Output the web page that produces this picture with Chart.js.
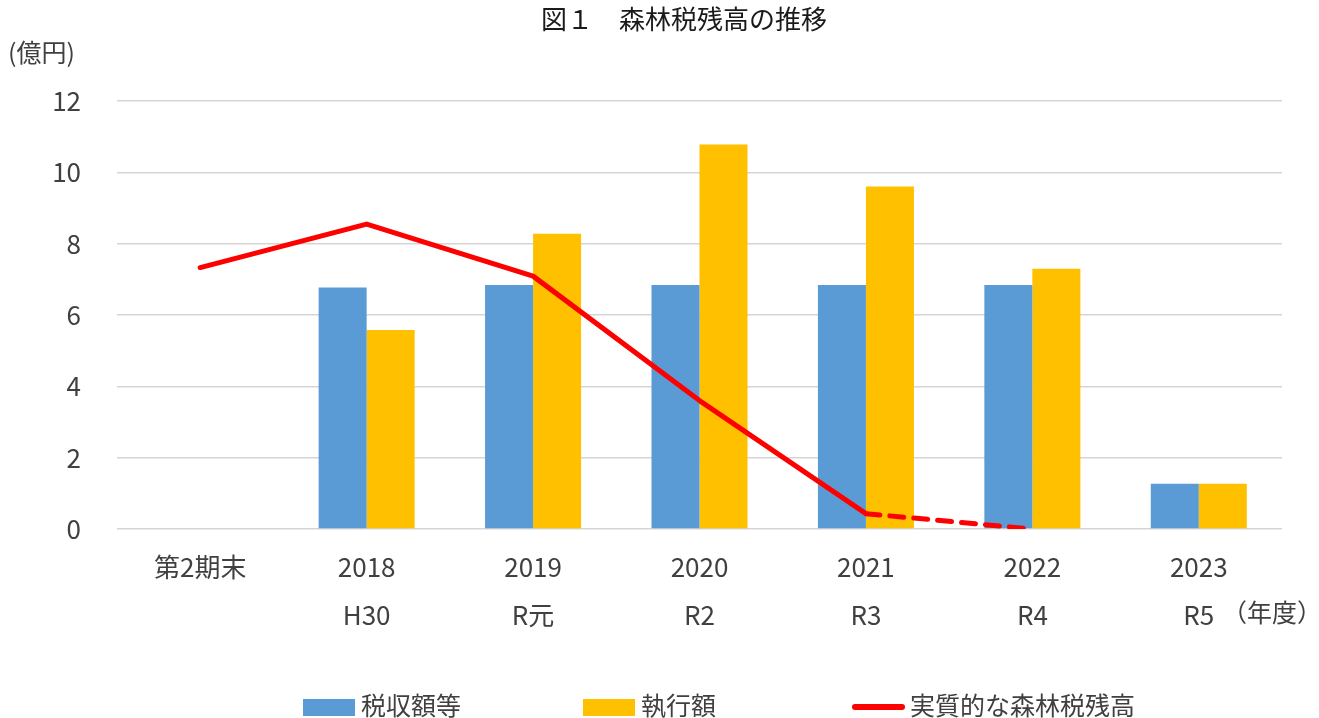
<!DOCTYPE html>
<html>
<head>
<meta charset="utf-8">
<script src="https://cdn.jsdelivr.net/npm/chart.js@4"></script>
<style>
  html, body { margin: 0; padding: 0; background: #fff; }
  #wrap { width: 1319px; height: 718px; }
</style>
</head>
<body>
<div id="wrap"><canvas id="chart" width="1319" height="718"></canvas></div>
<script>
const categories = [
  ["第2期末", ""],
  ["2018", "H30"],
  ["2019", "R元"],
  ["2020", "R2"],
  ["2021", "R3"],
  ["2022", "R4"],
  ["2023", "R5"]
];
const revenue = [null, 6.77, 6.84, 6.84, 6.84, 6.84, 1.27];
const spending = [null, 5.58, 8.28, 10.78, 9.6, 7.3, 1.27];
const balance = [7.33, 8.55, 7.09, 3.6, 0.43, 0, null];
const yTicks = [0, 2, 4, 6, 8, 10, 12];

const FONT = "'Noto Sans CJK JP', 'Noto Sans', sans-serif";
const TEXT = "#404040";
Chart.defaults.font.family = FONT;
Chart.defaults.color = TEXT;

// title, unit labels and the bottom legend
const extras = {
  id: "extras",
  afterDraw(chart) {
    const ctx = chart.ctx;
    ctx.save();
    ctx.fillStyle = "#1a1a1a";
    ctx.textBaseline = "middle";
    ctx.font = `26px ${FONT}`;
    ctx.textAlign = "left";
    ctx.fillText("図１　森林税残高の推移", 541, 19);

    ctx.fillStyle = TEXT;
    ctx.font = `25px ${FONT}`;
    ctx.fillText("(億円)", 8, 52);
    ctx.fillText("（年度）", 1222, 612);

    const starts = [303, 583, 852];
    const y = 707;
    chart.data.datasets.forEach((ds, i) => {
      const x = starts[i];
      if (ds.type === "line") {
        ctx.strokeStyle = ds.borderColor;
        ctx.lineWidth = 6;
        ctx.lineCap = "round";
        ctx.beginPath();
        ctx.moveTo(x + 3, y);
        ctx.lineTo(x + 50, y);
        ctx.stroke();
      } else {
        ctx.fillStyle = ds.backgroundColor;
        ctx.fillRect(x, y - 8, 52, 17);
      }
      ctx.fillStyle = TEXT;
      ctx.fillText(ds.label, x + 58, y - 2);
    });
    ctx.restore();
  }
};

new Chart(document.getElementById("chart"), {
  data: {
    labels: categories,
    datasets: [
      {
        type: "bar",
        label: "税収額等",
        data: revenue,
        backgroundColor: "#5B9BD5",
        order: 2
      },
      {
        type: "bar",
        label: "執行額",
        data: spending,
        backgroundColor: "#FFC000",
        order: 2
      },
      {
        type: "line",
        label: "実質的な森林税残高",
        data: balance,
        borderColor: "#FF0000",
        borderWidth: 5,
        borderJoinStyle: "round",
        borderCapStyle: "round",
        pointRadius: 0,
        tension: 0,
        spanGaps: false,
        order: 0,
        segment: {
          borderDash: (c) => (c.p0DataIndex === 4 ? [14, 10] : undefined)
        }
      }
    ]
  },
  options: {
    responsive: false,
    animation: false,
    categoryPercentage: 0.577,
    barPercentage: 1,
    layout: { padding: { top: 101, right: 37, left: 0, bottom: 0 } },
    plugins: {
      legend: { display: false },
      tooltip: { enabled: false }
    },
    scales: {
      x: {
        grid: { display: false },
        border: { display: false },
        ticks: {
          padding: 6,
          maxRotation: 0,
          autoSkip: false,
          color: TEXT,
          font: { size: 26, lineHeight: 1.846 }
        },
        afterFit: (s) => { s.height = 189; }
      },
      y: {
        min: 0,
        max: 12,
        afterBuildTicks: (s) => { s.ticks = yTicks.map((v) => ({ value: v })); },
        grid: { color: "#d5d5d5", lineWidth: 1.5, drawTicks: false },
        border: { display: false },
        ticks: {
          padding: 36,
          color: TEXT,
          font: { size: 26 }
        },
        afterFit: (s) => { s.width = 117; }
      }
    }
  },
  plugins: [extras]
});
</script>
</body>
</html>
